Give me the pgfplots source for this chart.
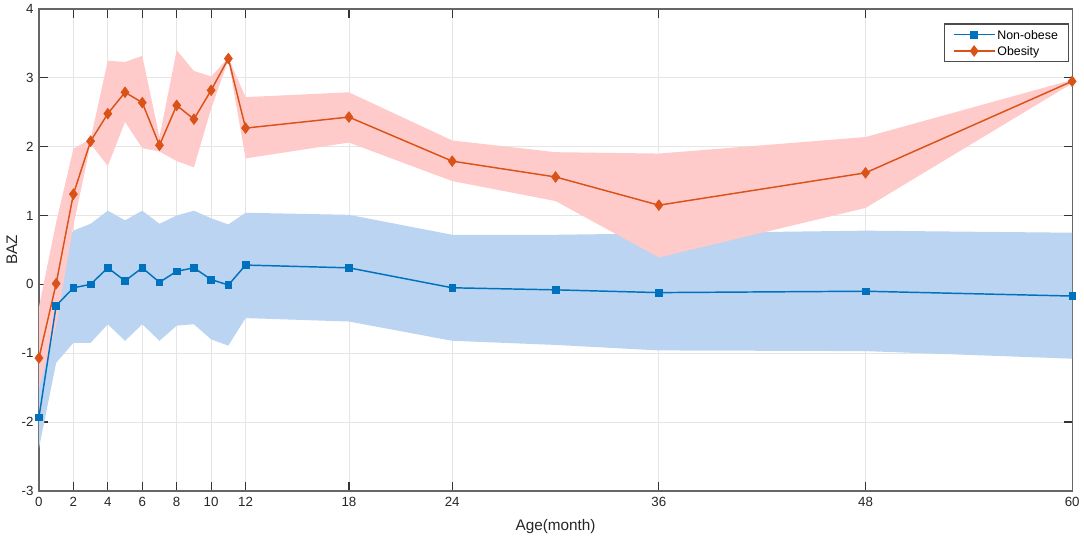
\documentclass[border=0pt]{standalone}
\usepackage{pgfplots}
\usepackage{pgfplotstable}
\pgfplotsset{compat=1.18}
\usepgfplotslibrary{fillbetween}
\usepackage{fontspec}
\setmainfont{Liberation Sans}
\definecolor{mblue}{HTML}{0072BD}
\definecolor{mred}{HTML}{D95319}
\definecolor{bfill}{HTML}{BAD4F2}
\definecolor{rfill}{HTML}{FFCACA}
\definecolor{axgray}{HTML}{262626}

\pgfplotstableread{
x mean up lo
0 -1.93 -1.45 -2.38
1 -0.31 0.35 -1.14
2 -0.05 0.78 -0.85
3 0.00 0.88 -0.85
4 0.24 1.07 -0.58
5 0.05 0.93 -0.82
6 0.24 1.07 -0.58
7 0.03 0.88 -0.82
8 0.19 1.00 -0.60
9 0.24 1.07 -0.58
10 0.07 0.96 -0.80
11 -0.01 0.87 -0.89
12 0.28 1.04 -0.49
18 0.24 1.01 -0.54
24 -0.05 0.72 -0.82
30 -0.08 0.72 -0.88
36 -0.12 0.74 -0.96
48 -0.10 0.78 -0.97
60 -0.17 0.75 -1.08
}\nonobese

\pgfplotstableread{
x mean up lo
0 -1.07 -0.33 -1.50
1 0.01 0.90 -0.60
2 1.31 1.97 0.85
3 2.08 2.11 2.04
4 2.48 3.25 1.72
5 2.79 3.23 2.36
6 2.64 3.32 1.98
7 2.02 2.14 1.93
8 2.60 3.40 1.79
9 2.40 3.10 1.70
10 2.82 3.02 2.55
11 3.28 3.29 3.26
12 2.27 2.72 1.83
18 2.43 2.79 2.06
24 1.79 2.09 1.50
30 1.56 1.92 1.21
36 1.15 1.90 0.39
48 1.62 2.14 1.11
60 2.95 2.97 2.92
}\obesity

\begin{document}
\begin{tikzpicture}
\begin{axis}[
  at={(0,0)}, anchor=south west,
  scale only axis, width=776.25pt, height=362pt,
  xmin=0, xmax=60, ymin=-3, ymax=4,
  xtick={0,2,4,6,8,10,12,18,24,36,48,60},
  xticklabels={0,2,4,6,8,10,12,18,24,36,48,60},
  ytick={-3,-2,-1,0,1,2,3,4},
  yticklabels={-3,-2,-1,0,1,2,3,4},
  xtick pos=both, ytick pos=both,
  xticklabel pos=lower, yticklabel pos=left,
  tick align=inside, major tick length=6.5pt,
  tick style={black!80, line width=0.9pt},
  axis line style={black!60, line width=1pt},
  grid=major, grid style={black!10, line width=0.6pt},
  ticklabel style={font=\fontsize{10}{12}\selectfont, text=axgray},
  xticklabel style={yshift=-1.5pt},
  yticklabel style={xshift=-0.5pt},
  xlabel={Age(month)}, ylabel={BAZ},
  label style={font=\fontsize{11.5}{13}\selectfont, text=axgray},
  xlabel style={at={(axis description cs:0.5,0)}, anchor=center, yshift=-27pt},
  ylabel style={at={(axis description cs:-0.0261,0.5)}, anchor=center},
  legend style={name=leg, at={(rel axis cs:1,1)}, anchor=north east, xshift=-3pt, yshift=-11.25pt,
    font=\fontsize{9.3}{11}\selectfont, draw=none, fill=white,
    cells={anchor=west}, row sep=2.5pt, inner xsep=6pt, inner ysep=3pt,
    nodes={inner sep=1.5pt, text depth=0pt}},
  legend image code/.code={%
    \draw[line width=1.1pt, mark repeat=2, mark phase=2] plot coordinates {(0pt,0pt) (15.4pt,0pt) (30.8pt,0pt)};},
]
\addplot[name path=bu, draw=none, forget plot] table[x=x, y=up] {\nonobese};
\addplot[name path=bl, draw=none, forget plot] table[x=x, y=lo] {\nonobese};
\addplot[bfill, draw=none, forget plot] fill between[of=bu and bl];
\addplot[name path=ru, draw=none, forget plot] table[x=x, y=up] {\obesity};
\addplot[name path=rl, draw=none, forget plot] table[x=x, y=lo] {\obesity};
\addplot[rfill, draw=none, forget plot] fill between[of=ru and rl];
\addplot[mblue, line width=1.1pt, mark=square*, mark size=2.5pt, mark options={fill=mblue, line width=0.5pt}] table[x=x, y=mean] {\nonobese};
\addlegendentry{Non-obese\hspace{5pt}}
\addplot[mred, line width=1.1pt, mark=diamond*, mark size=4pt, mark options={fill=mred, line width=0.5pt}] table[x=x, y=mean] {\obesity};
\addlegendentry{Obesity}
\end{axis}
\draw[black!70, line width=0.8pt] (leg.south west) rectangle (leg.north east);
\path (-29.25pt,-35pt) rectangle (783.75pt,367.25pt);
\end{tikzpicture}
\end{document}
